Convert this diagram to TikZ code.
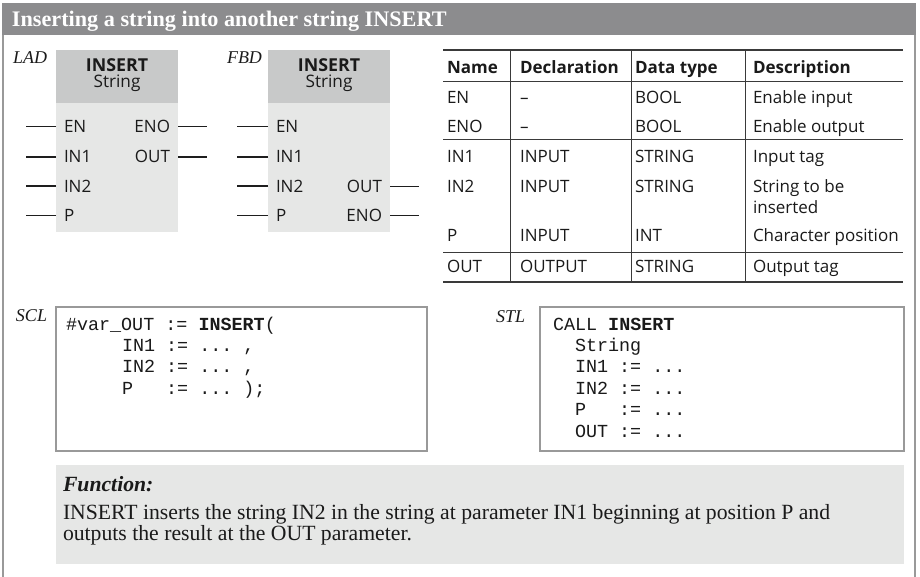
\documentclass[tikz,border=0pt]{standalone}
\usepackage{fontspec}
\setmainfont{Liberation Serif}
\setsansfont{Open Sans}
\setmonofont{Liberation Mono}
\definecolor{barcol}{HTML}{8C8C8E}
\definecolor{hdrcol}{HTML}{C8C9C9}
\definecolor{bodycol}{HTML}{E6E7E6}
\definecolor{framecol}{HTML}{999999}
\definecolor{rulecol}{HTML}{3A3A3A}
\definecolor{pincol}{HTML}{1E1E1E}
\definecolor{txtcol}{HTML}{1A1A1A}
\definecolor{funcol}{HTML}{E6E7E6}
\begin{document}
\begin{tikzpicture}[x=1pt,y=-1pt,
  every node/.style={inner sep=0pt,outer sep=0pt,text=txtcol},
  sf/.style={font=\fontsize{17}{20}\selectfont\sffamily},
  sfb/.style={font=\fontsize{17}{20}\selectfont\sffamily\bfseries},
  hb/.style={font=\fontsize{17.8}{20}\selectfont\sffamily\bfseries},
  hs/.style={font=\fontsize{17.2}{20}\selectfont\sffamily},
  lbl/.style={font=\fontsize{18}{20}\selectfont\itshape},
  code/.style={font=\fontsize{18.4}{21}\selectfont\ttfamily,anchor=base west},
  ftxt/.style={font=\fontsize{21.7}{22}\selectfont,anchor=base west},
  hdrbox/.style={fill=hdrcol,minimum width=122pt,minimum height=53pt},
  bodybox/.style={fill=bodycol,minimum width=122pt,minimum height=129pt},
  pinline/.style={draw=pincol,line width=1.8pt},
  trule/.style={draw=rulecol,line width=1pt},
  codebox/.style={draw=framecol,line width=1.2pt,fill=white}
]
\useasboundingbox (0,0) rectangle (920,577);
% title bar and frame
\fill[barcol] (2,3) rectangle (916,35);
\node[anchor=base west,text=white,font=\fontsize{22.2}{24}\selectfont\bfseries] (title) at (12,27) {Inserting a string into another string INSERT};
\draw[framecol,line width=1.4pt] (3,35) -- (3,577);
\draw[framecol,line width=1.4pt] (915,35) -- (915,577);

% ---------------- LAD ----------------
\node[lbl,anchor=base west] (ladl) at (13,64) {LAD};
\node[hdrbox] (ladh) at (117,76.5) {};
\node[bodybox] (ladb) at (117,167.5) {};
\node[hb,anchor=base] (ladt) at (117,71.5) {INSERT};
\node[hs,anchor=base] (lads) at (117,88) {String};
\node[sf,anchor=base west] (ladEN) at (64,132.5) {EN};
\node[sf,anchor=base west] (ladIN1) at (64,163) {IN1};
\node[sf,anchor=base west] (ladIN2) at (64,192.5) {IN2};
\node[sf,anchor=base west] (ladP) at (64,221.5) {P};
\node[sf,anchor=base east] (ladENO) at (170,132.5) {ENO};
\node[sf,anchor=base east] (ladOUT) at (170,163) {OUT};
\foreach \p in {ladEN,ladIN1,ladIN2,ladP}
  \draw[pinline] (ladb.west |- \p) -- ++(-30,0);
\foreach \p in {ladENO,ladOUT}
  \draw[pinline] (ladb.east |- \p) -- ++(29,0);

% ---------------- FBD ----------------
\node[lbl,anchor=base west] (fbdl) at (227,64) {FBD};
\node[hdrbox] (fbdh) at (329,76.5) {};
\node[bodybox] (fbdb) at (329,167.5) {};
\node[hb,anchor=base] (fbdt) at (329,71.5) {INSERT};
\node[hs,anchor=base] (fbds) at (329,88) {String};
\node[sf,anchor=base west] (fbdEN) at (276,132.5) {EN};
\node[sf,anchor=base west] (fbdIN1) at (276,163) {IN1};
\node[sf,anchor=base west] (fbdIN2) at (276,192.5) {IN2};
\node[sf,anchor=base west] (fbdP) at (276,221.5) {P};
\node[sf,anchor=base east] (fbdOUT) at (382,192.5) {OUT};
\node[sf,anchor=base east] (fbdENO) at (382,221.5) {ENO};
\foreach \p in {fbdEN,fbdIN1,fbdIN2,fbdP}
  \draw[pinline] (fbdb.west |- \p) -- ++(-31,0);
\foreach \p in {fbdOUT,fbdENO}
  \draw[pinline] (fbdb.east |- \p) -- ++(29,0);

% ---------------- Table ----------------
\draw[trule,line width=2pt] (443,50) -- (903,50);
\draw[trule] (443,82) -- (903,82);
\draw[trule] (443,140) -- (903,140);
\draw[trule] (443,252) -- (903,252);
\draw[trule,line width=1.6pt] (443,282) -- (903,282);
\foreach \cx in {510,631,745}
  \draw[trule] (\cx,50) -- (\cx,282);
\node[sfb,anchor=base west] (h1) at (447,73.5) {Name};
\node[sfb,anchor=base west] (h2) at (520,73.5) {Declaration};
\node[sfb,anchor=base west] (h3) at (635,73.5) {Data type};
\node[sfb,anchor=base west] (h4) at (753,73.5) {Description};
% EN
\node[sf,anchor=base west] (r1a) at (447,104) {EN};
\node[sf,anchor=base west] (r1b) at (520,104) {–};
\node[sf,anchor=base west] (r1c) at (635,104) {BOOL};
\node[sf,anchor=base west] (r1d) at (753,104) {Enable input};
% ENO
\node[sf,anchor=base west] (r2a) at (447,133) {ENO};
\node[sf,anchor=base west] (r2b) at (520,133) {–};
\node[sf,anchor=base west] (r2c) at (635,133) {BOOL};
\node[sf,anchor=base west] (r2d) at (753,133) {Enable output};
% IN1
\node[sf,anchor=base west] (r3a) at (447,163) {IN1};
\node[sf,anchor=base west] (r3b) at (520,163) {INPUT};
\node[sf,anchor=base west] (r3c) at (635,163) {STRING};
\node[sf,anchor=base west] (r3d) at (753,163) {Input tag};
% IN2
\node[sf,anchor=base west] (r4a) at (447,192.5) {IN2};
\node[sf,anchor=base west] (r4b) at (520,192.5) {INPUT};
\node[sf,anchor=base west] (r4c) at (635,192.5) {STRING};
\node[sf,anchor=base west] (r4d) at (753,192.5) {String to be};
\node[sf,anchor=base west] (r4e) at (753,213.5) {inserted};
% P
\node[sf,anchor=base west] (r5a) at (447,242) {P};
\node[sf,anchor=base west] (r5b) at (520,242) {INPUT};
\node[sf,anchor=base west] (r5c) at (635,242) {INT};
\node[sf,anchor=base west] (r5d) at (753,242) {Character position};
% OUT
\node[sf,anchor=base west] (r6a) at (447,272.5) {OUT};
\node[sf,anchor=base west] (r6b) at (520,272.5) {OUTPUT};
\node[sf,anchor=base west] (r6c) at (635,272.5) {STRING};
\node[sf,anchor=base west] (r6d) at (753,272.5) {Output tag};

% ---------------- SCL ----------------
\node[lbl,anchor=base west] (scll) at (16,321) {SCL};
\draw[codebox] (56,307) rectangle (427,451);
\node[code] (s1) at (66,330) {\#var\_OUT~:=~\textbf{INSERT}(};
\node[code] (s2) at (122,351.4) {IN1~:=~...~,};
\node[code] (s3) at (122,372.8) {IN2~:=~...~,};
\node[code] (s4) at (122,394.2) {P~~~:=~...~);};

% ---------------- STL ----------------
\node[lbl,anchor=base west] (stll) at (496,322) {STL};
\draw[codebox] (540,307) rectangle (904,451);
\node[code] (t1) at (553,330) {CALL~\textbf{INSERT}};
\node[code] (t2) at (575,351.4) {String};
\node[code] (t3) at (575,372.8) {IN1~:=~...};
\node[code] (t4) at (575,394.2) {IN2~:=~...};
\node[code] (t5) at (575,415.6) {P~~~:=~...};
\node[code] (t6) at (575,437) {OUT~:=~...};

% ---------------- Function ----------------
\fill[funcol] (56,465) rectangle (904,564);
\node[ftxt,font=\fontsize{21.7}{22}\selectfont\bfseries\itshape] (fh) at (63,491) {Function:};
\node[ftxt] (f1) at (63,519) {INSERT inserts the string IN2 in the string at parameter IN1 beginning at position P and};
\node[ftxt] (f2) at (63,540.5) {outputs the result at the OUT parameter.};
\end{tikzpicture}
\end{document}
